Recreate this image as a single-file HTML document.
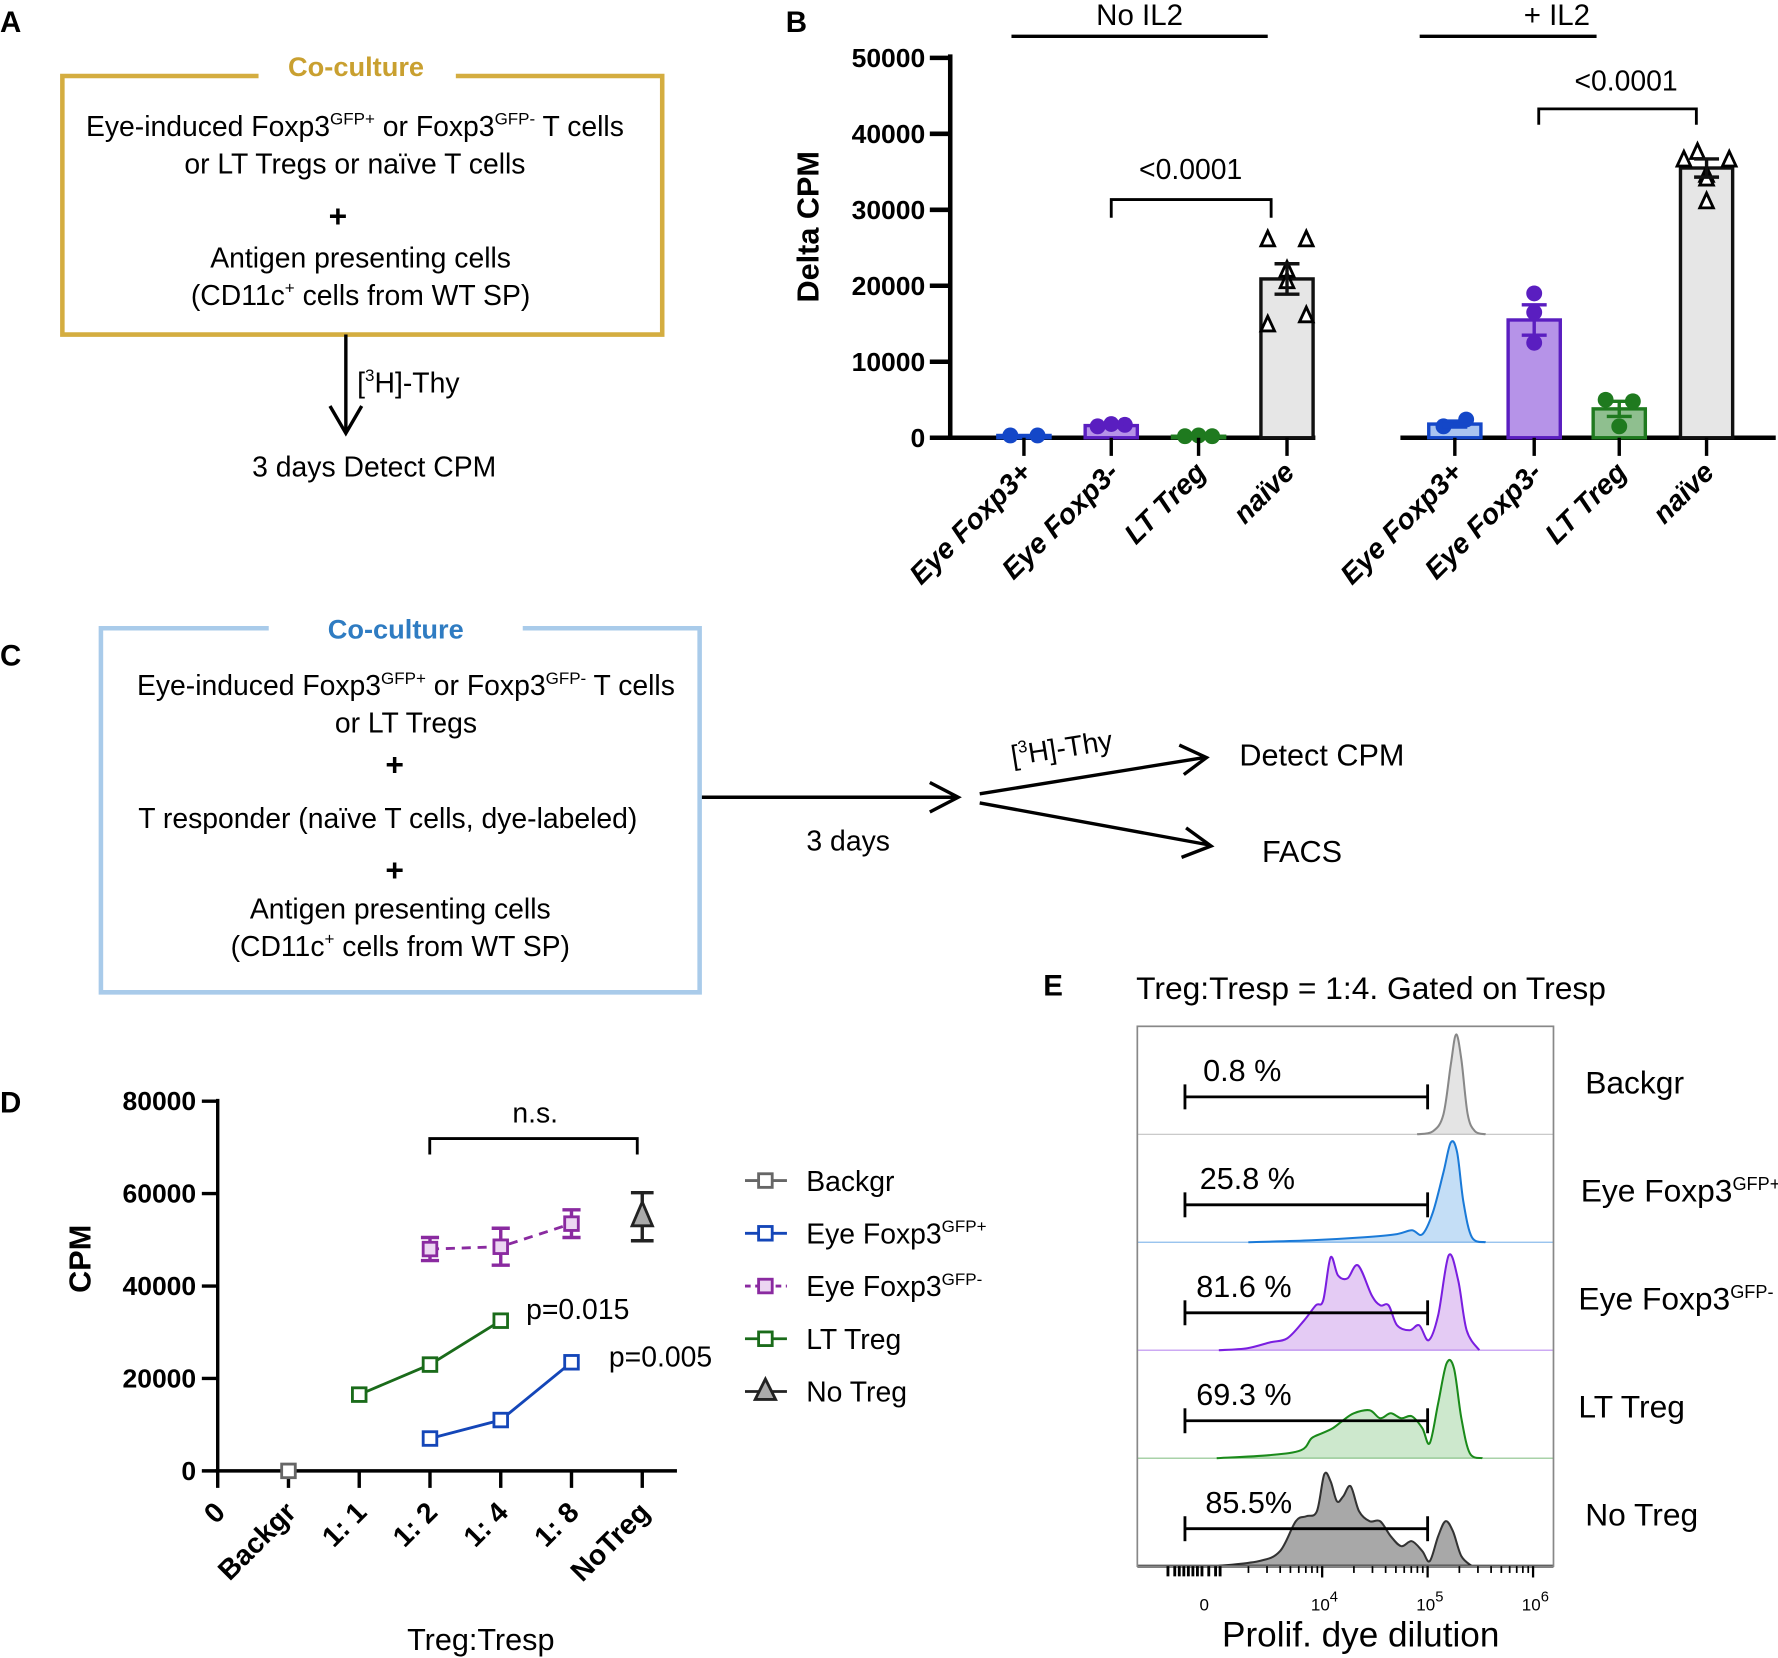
<!DOCTYPE html>
<html><head><meta charset="utf-8">
<style>
html,body{margin:0;padding:0;background:#fff;}
svg{display:block;font-family:"Liberation Sans",sans-serif;}
</style></head>
<body>
<svg id="fig" width="1778" height="1658" viewBox="0 0 1568 1462" preserveAspectRatio="none" xmlns="http://www.w3.org/2000/svg">
<g>
<text x="0" y="28" font-size="26" font-weight="bold">A</text>
<path d="M228 67 H55 V295 H584 V67 H402" fill="none" stroke="#d4ad40" stroke-width="4"/>
<text x="314" y="67" font-size="24" font-weight="bold" fill="#c9a030" text-anchor="middle">Co-culture</text>
<g font-size="25" text-anchor="middle">
<text x="313" y="120">Eye-induced Foxp3<tspan font-size="15" dy="-10">GFP+</tspan><tspan dy="10"> or Foxp3</tspan><tspan font-size="15" dy="-10">GFP-</tspan><tspan dy="10"> T cells</tspan></text>
<text x="313" y="153">or LT Tregs or naïve T cells</text>
<text x="298" y="200" font-weight="bold" font-size="28">+</text>
<text x="318" y="236">Antigen presenting cells</text>
<text x="318" y="269">(CD11c<tspan font-size="15" dy="-10">+</tspan><tspan dy="10"> cells from WT SP)</tspan></text>
</g>
<line x1="305" y1="295" x2="305" y2="380" stroke="#000" stroke-width="3"/>
<path d="M291 358 L305 382 L319 358" fill="none" stroke="#000" stroke-width="3"/>
<text x="315" y="346" font-size="25">[<tspan font-size="15" dy="-10">3</tspan><tspan dy="10">H]-Thy</tspan></text>
<text x="330" y="420" font-size="25" text-anchor="middle">3 days Detect CPM</text>
</g>

<g>
<text x="0" y="587" font-size="26" font-weight="bold">C</text>
<path d="M237 554 H89 V875 H617 V554 H461" fill="none" stroke="#a9cbea" stroke-width="4"/>
<text x="349" y="563" font-size="24" font-weight="bold" fill="#2f7cc2" text-anchor="middle">Co-culture</text>
<g font-size="25" text-anchor="middle">
<text x="358" y="613">Eye-induced Foxp3<tspan font-size="15" dy="-10">GFP+</tspan><tspan dy="10"> or Foxp3</tspan><tspan font-size="15" dy="-10">GFP-</tspan><tspan dy="10"> T cells</tspan></text>
<text x="358" y="646">or LT Tregs</text>
<text x="348" y="684" font-weight="bold" font-size="28">+</text>
<text x="342" y="730">T responder (naïve T cells, dye-labeled)</text>
<text x="348" y="777" font-weight="bold" font-size="28">+</text>
<text x="353" y="810">Antigen presenting cells</text>
<text x="353" y="843">(CD11c<tspan font-size="15" dy="-10">+</tspan><tspan dy="10"> cells from WT SP)</tspan></text>
</g>
<g stroke="#000" stroke-width="3" fill="none">
<line x1="619" y1="703" x2="843" y2="703"/><path d="M820 690 L845 703 L820 716"/>
<line x1="864" y1="700" x2="1062" y2="668"/><path d="M1040 657 L1064 668 L1044 683"/>
<line x1="864" y1="708" x2="1066" y2="745"/><path d="M1046 730 L1068 746 L1042 756"/>
</g>
<text x="748" y="750" font-size="25" text-anchor="middle">3 days</text>
<text x="893" y="675" font-size="25" transform="rotate(-9 893 675)">[<tspan font-size="15" dy="-10">3</tspan><tspan dy="10">H]-Thy</tspan></text>
<text x="1093" y="675" font-size="27">Detect CPM</text>
<text x="1113" y="760" font-size="27">FACS</text>
</g>

<g id="panelB">
<text x="693" y="28" font-size="26" font-weight="bold">B</text>
</g>
<g id="panelD">
<text x="0" y="981" font-size="26" font-weight="bold">D</text>
</g>
<g id="panelE">
<text x="920" y="878" font-size="26" font-weight="bold">E</text>
<text x="1002" y="881" font-size="28">Treg:Tresp = 1:4. Gated on Tresp</text>
</g>
</svg>
<script>
const NS='http://www.w3.org/2000/svg';
function mk(p,tag,a,txt){const e=document.createElementNS(NS,tag);for(const k in a)e.setAttribute(k,a[k]);if(txt!==undefined)e.textContent=txt;p.appendChild(e);return e;}

// ---------- Panel B data ----------
const bCategories=['Eye Foxp3+','Eye Foxp3-','LT Treg','naïve'];
const bMeansNoIL2=[300,1600,200,20900];
const bSemNoIL2=[0,200,0,2000];
const bPtsNoIL2=[[300,300],[1500,1800,1700],[200,300,200],[26000,26000,22000,20500,14800,16000]];
const bMeansIL2=[1800,15500,3800,35500];
const bSemIL2=[400,2000,1000,1200];
const bPtsIL2=[[1500,2400],[19000,16500,12500],[5000,4800,1500],[37500,36500,36500,34500,34000,31000]];
const bTicks=[0,10000,20000,30000,40000,50000];
const bColors=['#1447c8','#5a1ec0','#1f7a1f','#111'];
const bFills=['#a9c4f0','#b693e8','#8fbf8f','#e6e6e6'];
// horizontal jitter layout (px), not data
const jitNo=[[-12,12],[-12,0,12],[-12,0,12],[-17,17,0,0,-17,17]];
const jitIL=[[-10,10],[0,0,0],[-12,12,0],[-8,-20,20,0,0,0]];

const B=document.getElementById('panelB');
const byS=v=>386-v/50000*335;
const bx1=[903,980,1057,1135], bx2=[1283,1353,1428,1505];
mk(B,'line',{x1:838,y1:48,x2:838,y2:388,stroke:'#000','stroke-width':4});
bTicks.forEach(t=>{mk(B,'line',{x1:820,y1:byS(t),x2:838,y2:byS(t),stroke:'#000','stroke-width':4});
 mk(B,'text',{x:816,y:byS(t)+8,'font-size':23,'font-weight':'bold','text-anchor':'end',textLength:String(t).length*13,lengthAdjust:'spacingAndGlyphs'},String(t));});
mk(B,'text',{x:722,y:200,'font-size':27,'font-weight':'bold','text-anchor':'middle',transform:'rotate(-90 722 200)'},'Delta CPM');
mk(B,'line',{x1:836,y1:386,x2:1160,y2:386,stroke:'#000','stroke-width':4});
mk(B,'line',{x1:1235,y1:386,x2:1566,y2:386,stroke:'#000','stroke-width':4});
mk(B,'line',{x1:892,y1:32,x2:1118,y2:32,stroke:'#000','stroke-width':3});
mk(B,'line',{x1:1252,y1:32,x2:1408,y2:32,stroke:'#000','stroke-width':3});
mk(B,'text',{x:1005,y:22,'font-size':26,'text-anchor':'middle'},'No IL2');
mk(B,'text',{x:1373,y:22,'font-size':26,'text-anchor':'middle'},'+ IL2');
mk(B,'path',{d:'M980 192 V176 H1121 V192',fill:'none',stroke:'#000','stroke-width':2.5});
mk(B,'text',{x:1050,y:158,'font-size':25,'text-anchor':'middle'},'<0.0001');
mk(B,'path',{d:'M1357 110 V96 H1496 V110',fill:'none',stroke:'#000','stroke-width':2.5});
mk(B,'text',{x:1434,y:80,'font-size':25,'text-anchor':'middle'},'<0.0001');
function drawGroup(xs,means,sems,pts,jit,tag){
 xs.forEach((cx,i)=>{
  const g=mk(B,'g',{});
  
  
  const w=46,y=byS(means[i]);
  mk(g,'rect',{x:cx-w/2,y:y,width:w,height:386-y,fill:bFills[i],stroke:bColors[i],'stroke-width':3});
  pts[i].forEach((v,j)=>{const px=cx+(jit[i][j]||0);const yy=byS(v);
   if(i===3){mk(g,'path',{d:`M${px} ${yy-8} L${px+6} ${yy+5} L${px-6} ${yy+5} Z`,fill:'#fff',stroke:'#000','stroke-width':2.5});}
   else mk(g,'circle',{cx:px,cy:yy,r:7,fill:bColors[i]});});
  if(sems[i]>0){mk(g,'line',{x1:cx,y1:byS(means[i]+sems[i]),x2:cx,y2:byS(means[i]-sems[i]),stroke:bColors[i],'stroke-width':3});
   [means[i]+sems[i],means[i]-sems[i]].forEach(v=>mk(g,'line',{x1:cx-11,y1:byS(v),x2:cx+11,y2:byS(v),stroke:bColors[i],'stroke-width':3}));}
  mk(B,'line',{x1:cx,y1:386,x2:cx,y2:402,stroke:'#000','stroke-width':3});
  const t=mk(B,'text',{x:cx+8,y:418,'font-size':25,'font-weight':'bold','font-style':'italic','text-anchor':'end',transform:`rotate(-45 ${cx+8} 418)`},bCategories[i]);
  
  
 });
}
drawGroup(bx1,bMeansNoIL2,bSemNoIL2,bPtsNoIL2,jitNo,'noil2');
drawGroup(bx2,bMeansIL2,bSemIL2,bPtsIL2,jitIL,'il2');

// ---------- Panel D data ----------
const dCategories=['0','Backgr','1: 1','1: 2','1: 4','1: 8','NoTreg'];
const dTicks=[0,20000,40000,60000,80000];
const dBackgrX=[1], dBackgr=[0];
const dEyePlusX=[3,4,5], dEyePlus=[7000,11000,23500];
const dEyeMinusX=[3,4,5], dEyeMinus=[48000,48500,53500], dEyeMinusErr=[2500,4000,3000];
const dLTX=[2,3,4], dLT=[16500,23000,32500];
const dNoTregX=[6], dNoTreg=[55000], dNoTregErr=[5200];
const D=document.getElementById('panelD');
const dX=i=>192+62.4*i, dY=v=>1297-v/80000*326;
mk(D,'line',{x1:192,y1:969,x2:192,y2:1312,stroke:'#000','stroke-width':3});
mk(D,'line',{x1:190,y1:1297,x2:597,y2:1297,stroke:'#000','stroke-width':3});
dTicks.forEach(t=>{mk(D,'line',{x1:178,y1:dY(t),x2:192,y2:dY(t),stroke:'#000','stroke-width':3});
 mk(D,'text',{x:173,y:dY(t)+8,'font-size':23,'font-weight':'bold','text-anchor':'end',textLength:String(t).length*13,lengthAdjust:'spacingAndGlyphs'},String(t));});
dCategories.forEach((c,i)=>{if(i>0)mk(D,'line',{x1:dX(i),y1:1297,x2:dX(i),y2:1312,stroke:'#000','stroke-width':3});
 const x=dX(i)+8,y=1335;
 const t=mk(D,'text',{x:x,y:y,'font-size':25,'font-weight':'bold','text-anchor':'end',transform:`rotate(-45 ${x} ${y})`},c);
 
 });
mk(D,'text',{x:80,y:1110,'font-size':27,'font-weight':'bold','text-anchor':'middle',transform:'rotate(-90 80 1110)'},'CPM');
mk(D,'text',{x:424,y:1455,'font-size':27,'text-anchor':'middle'},'Treg:Tresp');
mk(D,'path',{d:'M379 1018 V1004 H562 V1018',fill:'none',stroke:'#000','stroke-width':2.5});
mk(D,'text',{x:472,y:990,'font-size':25,'text-anchor':'middle'},'n.s.');
mk(D,'text',{x:464,y:1163,'font-size':25},'p=0.015');
mk(D,'text',{x:537,y:1205,'font-size':25},'p=0.005');
function series(xs,vs,col,fill,dash,name,errs){
 const g=mk(D,'g',{});
 
 
 mk(g,'polyline',{points:xs.map((x,i)=>dX(x)+','+dY(vs[i])).join(' '),fill:'none',stroke:col,'stroke-width':2.5,'stroke-dasharray':dash||''});
 xs.forEach((x,i)=>{const cx=dX(x),cy=dY(vs[i]);
  if(errs){[vs[i]+errs[i],vs[i]-errs[i]].forEach(v=>mk(g,'line',{x1:cx-8,y1:dY(v),x2:cx+8,y2:dY(v),stroke:col,'stroke-width':3}));
   mk(g,'line',{x1:cx,y1:dY(vs[i]+errs[i]),x2:cx,y2:dY(vs[i]-errs[i]),stroke:col,'stroke-width':3});}
  mk(g,'rect',{x:cx-6,y:cy-6,width:12,height:12,fill:fill,stroke:col,'stroke-width':2.5});});
}
series(dBackgrX,dBackgr,'#666','#fff','','series-backgr');
series(dLTX,dLT,'#1a6b1a','#fff','','series-lt-treg');
series(dEyePlusX,dEyePlus,'#1446b8','#fff','','series-eye-foxp3-pos');
series(dEyeMinusX,dEyeMinus,'#8a2aa0','#ecd6f2','8 6','series-eye-foxp3-neg',dEyeMinusErr);
(function(){const cx=dX(dNoTregX[0]),v=dNoTreg[0],e=dNoTregErr[0];
 const g=mk(D,'g',{});
 
 
 mk(g,'line',{x1:cx,y1:dY(v+e),x2:cx,y2:dY(v-e),stroke:'#222','stroke-width':3});
 [v+e,v-e].forEach(t=>mk(g,'line',{x1:cx-10,y1:dY(t),x2:cx+10,y2:dY(t),stroke:'#222','stroke-width':3}));
 const cy=dY(v);mk(g,'path',{d:`M${cx} ${cy-13} L${cx+9} ${cy+8} L${cx-9} ${cy+8} Z`,fill:'#aaa',stroke:'#222','stroke-width':2.5});})();
const legItems=[['Backgr','#666','#fff','','sq'],['Eye Foxp3','#1446b8','#fff','','sq','GFP+'],['Eye Foxp3','#8a2aa0','#ecd6f2','5 4','sq','GFP-'],['LT Treg','#1a6b1a','#fff','','sq'],['No Treg','#222','#aaa','','tri']];
legItems.forEach((it,i)=>{const y=1041+i*46.5;
 const g=mk(D,'g',{});
 
 
 mk(g,'line',{x1:657,y1:y,x2:694,y2:y,stroke:it[1],'stroke-width':2.5,'stroke-dasharray':it[3]});
 if(it[4]==='sq')mk(g,'rect',{x:669,y:y-6,width:12,height:12,fill:it[2],stroke:it[1],'stroke-width':2.5});
 else mk(g,'path',{d:`M675 ${y-11} L684 ${y+7} L666 ${y+7} Z`,fill:it[2],stroke:it[1],'stroke-width':2.5});
 const t=mk(g,'text',{x:711,y:y+9,'font-size':25},it[0]);
 if(it[5])mk(t,'tspan',{'font-size':15,dy:-10},it[5]);});

// ---------- Panel E data ----------
const eLabels=['Backgr','Eye Foxp3','Eye Foxp3','LT Treg','No Treg'];
const eSup=['','GFP+','GFP-','',''];
const ePercents=['0.8 %','25.8 %','81.6 %','69.3 %','85.5%'];
const eX0=[4.9,5.05,5.15,5.22,5.27,5.32,5.38,5.45,5.55];
const eH0=[0,0.03,0.2,0.7,1,0.75,0.2,0.03,0];
const eX1=[3.3,3.9,4.4,4.7,4.85,4.95,5.05,5.15,5.22,5.28,5.34,5.42,5.55];
const eH1=[0,0.02,0.05,0.08,0.12,0.08,0.3,0.7,1,0.9,0.4,0.05,0];
const eX2=[3.02,3.29,3.51,3.67,3.83,3.94,4.01,4.08,4.15,4.24,4.34,4.47,4.55,4.63,4.71,4.83,4.92,5.01,5.10,5.20,5.29,5.37,5.49];
const eH2=[0,0.02,0.08,0.12,0.3,0.45,0.5,0.93,0.75,0.72,0.85,0.55,0.45,0.45,0.25,0.2,0.25,0.1,0.35,0.95,0.7,0.2,0];
const eX3=[3.0,3.5,3.8,3.9,4.0,4.1,4.2,4.3,4.45,4.55,4.65,4.75,4.85,4.95,5.02,5.1,5.18,5.25,5.32,5.4,5.52];
const eH3=[0,0.03,0.08,0.2,0.25,0.3,0.38,0.45,0.48,0.4,0.45,0.4,0.42,0.3,0.15,0.55,0.95,0.9,0.4,0.05,0];
const eX4=[3.0,3.4,3.6,3.75,3.85,3.95,4.02,4.08,4.14,4.2,4.27,4.35,4.45,4.55,4.65,4.75,4.85,4.95,5.02,5.1,5.17,5.24,5.32,5.42];
const eH4=[0,0.05,0.15,0.45,0.5,0.55,0.92,0.85,0.65,0.7,0.8,0.55,0.45,0.45,0.3,0.2,0.25,0.15,0.05,0.3,0.45,0.35,0.1,0];
const eXs=[eX0,eX1,eX2,eX3,eX4], eHs=[eH0,eH1,eH2,eH3,eH4];
const eStroke=['#888','#1a7ad8','#7a1ee0','#1a8a1a','#333'];
const eFill=['#e4e4e4','#c4def6','#e4cbf4','#cde8cd','#a8a8a8'];
const E=document.getElementById('panelE');
const eXs2=d=>1166+(d-4)*93;
const top0=905,rowH=95.2,left=1003,right=1370;
function smooth(P){let d=`M${P[0][0]} ${P[0][1]}`;
 for(let i=0;i<P.length-1;i++){const p0=P[i-1]||P[i],p1=P[i],p2=P[i+1],p3=P[i+2]||p2;
  d+=` C${p1[0]+(p2[0]-p0[0])/6} ${p1[1]+(p2[1]-p0[1])/6} ${p2[0]-(p3[0]-p1[0])/6} ${p2[1]-(p3[1]-p1[1])/6} ${p2[0]} ${p2[1]}`;}
 return d;}
for(let r=0;r<5;r++){
 const base=top0+rowH*(r+1);
 const g=mk(E,'g',{});
 
 
 const P=eXs[r].map((d,i)=>[eXs2(d),base-eHs[r][i]*88]);
 const d=smooth(P);
 mk(g,'path',{d:d+' Z',fill:eFill[r],stroke:'none'});
 mk(g,'path',{d:d,fill:'none',stroke:eStroke[r],'stroke-width':1.8});
 mk(g,'line',{x1:left,y1:base,x2:right,y2:base,stroke:r<4?eStroke[r]:'#000','stroke-width':r<4?1:2.5,'stroke-opacity':r<4?0.5:1});
 const gy=base-33;
 mk(g,'line',{x1:1045,y1:gy,x2:1259,y2:gy,stroke:'#000','stroke-width':2.5});
 mk(g,'line',{x1:1045,y1:gy-11,x2:1045,y2:gy+11,stroke:'#000','stroke-width':2.5});
 mk(g,'line',{x1:1259,y1:gy-11,x2:1259,y2:gy+11,stroke:'#000','stroke-width':2.5});
 mk(g,'text',{x:[1061,1058,1055,1055,1063][r],y:gy-14,'font-size':27},ePercents[r]);
 const t=mk(g,'text',{x:[1398,1394,1392,1392,1398][r],y:base-36,'font-size':28},eLabels[r]);
 if(eSup[r])mk(t,'tspan',{'font-size':16,dy:-10},eSup[r]);
}
mk(E,'rect',{x:left,y:top0,width:right-left,height:rowH*5,fill:'none',stroke:'#888','stroke-width':1.5});
const eMinor=[2,3,4,5,6,7,8,9];
[3,4,5].forEach(dec=>eMinor.forEach(m=>{const x=eXs2(dec+Math.log10(m));if(x<1362)mk(E,'line',{x1:x,y1:1381,x2:x,y2:1387,stroke:'#000','stroke-width':1.5});}));
[4,5,6].forEach(d=>mk(E,'line',{x1:eXs2(d),y1:1381,x2:eXs2(d),y2:1391,stroke:'#000','stroke-width':2}));
[1030,1036,1040,1044,1048,1052,1056,1060,1066,1072,1076].forEach(x=>mk(E,'line',{x1:x,y1:1381,x2:x,y2:1390,stroke:'#000','stroke-width':2.5}));
mk(E,'text',{x:1062,y:1420,'font-size':15,'text-anchor':'middle'},'0');
[[4,'4'],[5,'5'],[6,'6']].forEach(p=>{const t=mk(E,'text',{x:eXs2(p[0])+2,y:1420,'font-size':15,'text-anchor':'middle'},'10');mk(t,'tspan',{'font-size':13,dy:-8},p[1]);});
mk(E,'text',{x:1200,y:1452,'font-size':31,'text-anchor':'middle'},'Prolif. dye dilution');
</script>
</body></html>
